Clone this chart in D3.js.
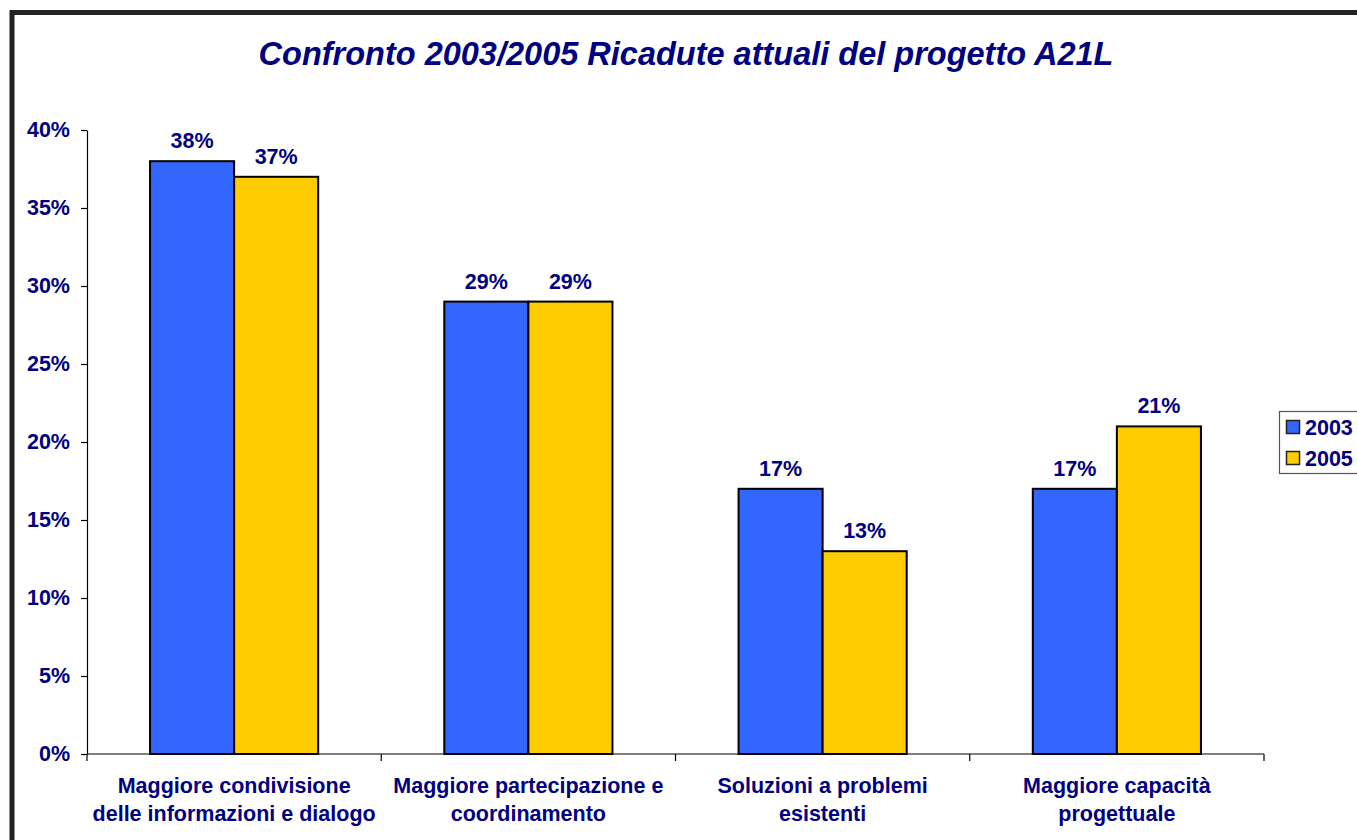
<!DOCTYPE html>
<html><head><meta charset="utf-8">
<script src="https://cdn.jsdelivr.net/npm/d3@7"></script>
<style>body{margin:0;background:#fff;}svg{display:block;}</style>
</head><body>
<svg id="c" width="1357" height="840"></svg>
<script>
const categories = [
  ["Maggiore condivisione","delle informazioni e dialogo"],
  ["Maggiore partecipazione e","coordinamento"],
  ["Soluzioni a problemi","esistenti"],
  ["Maggiore capacità","progettuale"]
];
const seriesNames = ["2003","2005"];
const values2003 = [38, 29, 17, 17];
const values2005 = [37, 29, 13, 21];
const yTicks = [0,5,10,15,20,25,30,35,40];
const colors = ["#3366FF","#FFCC00"];
const navy = "#000080";
const font = "'Liberation Sans', Arial, sans-serif";

(function(){
const svg = d3.select("#c");
const fs = 21.5;
// frame
svg.append("rect").attr("x",12).attr("y",12.5).attr("width",1360).attr("height",840)
  .attr("fill","none").attr("stroke","#222").attr("stroke-width",5);

svg.append("text").attr("x",686).attr("y",65).attr("text-anchor","middle")
  .attr("font-family",font).attr("font-weight","bold").attr("font-style","italic")
  .attr("font-size",32.5).attr("fill",navy)
  .text("Confronto 2003/2005 Ricadute attuali del progetto A21L");

const pl=87, pr=1264, pt=130, pb=754;
const x0 = d3.scaleBand().domain(d3.range(categories.length)).range([pl,pr]).paddingInner(0).paddingOuter(0);
const y = d3.scaleLinear().domain([0,40]).range([pb,pt]);
const x1 = d3.scaleBand().domain(seriesNames).range([0,x0.bandwidth()]).paddingInner(0).paddingOuter(0.75);

// y axis
const yAxis = svg.append("g").attr("transform",`translate(${pl},0)`)
  .call(d3.axisLeft(y).tickValues(yTicks).tickSize(6).tickSizeOuter(0).tickPadding(11).tickFormat(d=>d+"%"));
yAxis.selectAll("path,line").attr("stroke","#000").attr("stroke-width",1.2);
yAxis.selectAll("text").attr("font-family",font).attr("font-weight","bold").attr("font-size",fs).attr("fill",navy);

// x axis
const xAxisG = svg.append("g").attr("transform",`translate(0,${pb})`);
xAxisG.append("line").attr("x1",pl).attr("x2",pr).attr("stroke","#000").attr("stroke-width",1.2);
const bounds = d3.range(categories.length+1).map(i => i<categories.length ? x0(i) : x0(i-1)+x0.bandwidth());
xAxisG.selectAll("line.t").data(bounds).join("line").attr("class","t")
  .attr("x1",d=>d).attr("x2",d=>d).attr("y1",0).attr("y2",7).attr("stroke","#000").attr("stroke-width",1.2);

const rows = categories.map((c,i)=>({i, vals:[values2003[i],values2005[i]]}));
const g = svg.append("g");
rows.forEach(r=>{
  r.vals.forEach((v,j)=>{
    const xx = x0(r.i)+x1(seriesNames[j]);
    g.append("rect").attr("x",xx).attr("y",y(v)).attr("width",x1.bandwidth()).attr("height",pb-y(v))
      .attr("fill",colors[j]).attr("stroke","#000").attr("stroke-width",2);
    g.append("text").attr("x",xx+x1.bandwidth()/2).attr("y",y(v)-13).attr("text-anchor","middle")
      .attr("font-family",font).attr("font-weight","bold").attr("font-size",fs).attr("fill",navy).text(v+"%");
  });
  const t = svg.append("text").attr("text-anchor","middle").attr("font-family",font)
    .attr("font-weight","bold").attr("font-size",fs).attr("fill",navy);
  categories[r.i].forEach((line,k)=>{
    t.append("tspan").attr("x",x0(r.i)+x0.bandwidth()/2).attr("y",793+k*28).text(line);
  });
});

// legend
const lg = svg.append("g");
lg.append("rect").attr("x",1279.5).attr("y",411.5).attr("width",90).attr("height",62)
  .attr("fill","#fff").attr("stroke","#555").attr("stroke-width",1.2);
seriesNames.forEach((s,j)=>{
  lg.append("rect").attr("x",1286.5).attr("y",420.5+j*31).attr("width",13).attr("height",13)
    .attr("fill",colors[j]).attr("stroke","#222").attr("stroke-width",1.5);
  lg.append("text").attr("x",1305).attr("y",435+j*31).attr("font-family",font).attr("font-weight","bold")
    .attr("font-size",fs).attr("fill",navy).text(s);
});
})();
</script>
</body></html>
